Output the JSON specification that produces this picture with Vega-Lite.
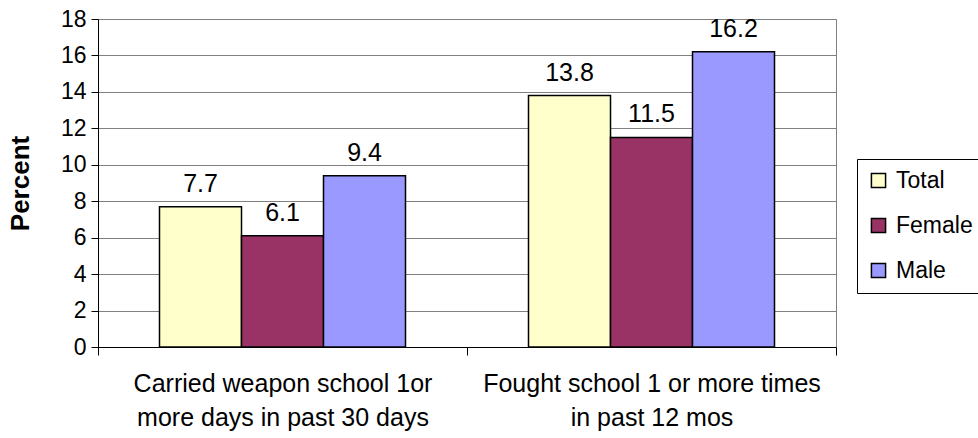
{
  "$schema": "https://vega.github.io/schema/vega-lite/v6.json",
  "autosize": "none",
  "width": 738,
  "height": 328,
  "padding": {"left": 98, "top": 19, "right": 142, "bottom": 91},
  "background": "white",
  "config": {
    "font": "Liberation Sans",
    "view": {"stroke": "#808080", "strokeWidth": 1}
  },
  "data": {
    "values": [
      {"cat": "Carried weapon school 1or|more days in past 30 days", "group": "Total", "value": 7.7},
      {"cat": "Carried weapon school 1or|more days in past 30 days", "group": "Female", "value": 6.1},
      {"cat": "Carried weapon school 1or|more days in past 30 days", "group": "Male", "value": 9.4},
      {"cat": "Fought school 1 or more times|in past 12 mos", "group": "Total", "value": 13.8},
      {"cat": "Fought school 1 or more times|in past 12 mos", "group": "Female", "value": 11.5},
      {"cat": "Fought school 1 or more times|in past 12 mos", "group": "Male", "value": 16.2}
    ]
  },
  "encoding": {
    "x": {
      "field": "cat",
      "type": "nominal",
      "sort": null,
      "scale": {"paddingInner": 0, "paddingOuter": 0},
      "axis": {
        "title": null,
        "labelAngle": 0,
        "labelExpr": "split(datum.label, '|')",
        "labelFontSize": 25,
        "labelLineHeight": 34,
        "labelLimit": 0,
        "labelColor": "#000",
        "labelPadding": 16,
        "tickBand": "extent",
        "tickSize": 8,
        "tickColor": "#000",
        "domainColor": "#000",
        "grid": false
      }
    },
    "xOffset": {
      "field": "group",
      "type": "nominal",
      "sort": ["Total", "Female", "Male"],
      "scale": {"paddingInner": 0, "paddingOuter": 0.75}
    },
    "y": {
      "field": "value",
      "type": "quantitative",
      "scale": {"domain": [0, 18], "nice": false},
      "axis": {
        "title": "Percent",
        "titleFontSize": 26,
        "titleFontWeight": "bold",
        "titleColor": "#000",
        "titlePadding": 27,
        "values": [0, 2, 4, 6, 8, 10, 12, 14, 16, 18],
        "labelOverlap": false,
        "labelFontSize": 23,
        "labelColor": "#000",
        "labelPadding": 5,
        "tickSize": 7,
        "tickColor": "#000",
        "domainColor": "#000",
        "gridColor": "#808080",
        "gridWidth": 1
      }
    }
  },
  "layer": [
    {
      "mark": {"type": "bar", "stroke": "#000", "strokeWidth": 1.5},
      "encoding": {
        "color": {
          "field": "group",
          "type": "nominal",
          "sort": ["Total", "Female", "Male"],
          "scale": {"domain": ["Total", "Female", "Male"], "range": ["#FFFFCC", "#993366", "#9999FF"]},
          "legend": {
            "title": null,
            "orient": "none",
            "legendX": 759,
            "legendY": 140,
            "symbolType": "square",
            "symbolSize": 200,
            "symbolStrokeColor": "#000",
            "symbolStrokeWidth": 1.5,
            "labelFontSize": 23,
            "labelColor": "#000",
            "labelOffset": 6,
            "rowPadding": 21,
            "padding": 10,
            "strokeColor": "#000",
            "fillColor": "white"
          }
        }
      }
    },
    {
      "mark": {"type": "text", "dy": -23, "fontSize": 25, "color": "#000"},
      "encoding": {
        "text": {"field": "value", "type": "quantitative", "format": ".1f"}
      }
    }
  ]
}
